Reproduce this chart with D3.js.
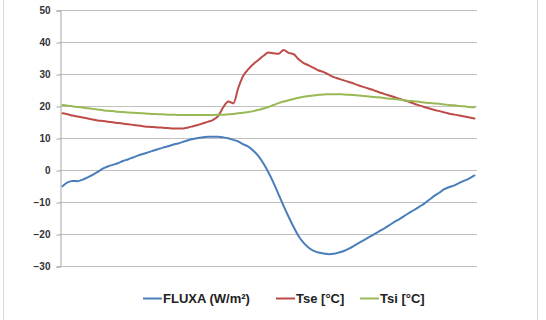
<!DOCTYPE html>
<html>
<head>
<meta charset="utf-8">
<script src="https://cdn.jsdelivr.net/npm/d3@7"></script>
<style>
  html, body { margin: 0; padding: 0; background: #fff; }
  svg { display: block; }
</style>
</head>
<body>
<svg id="chart" width="546" height="320"></svg>
<script>
// ---- DATA ----
const seriesNames = ["FLUXA (W/m²)", "Tse [°C]", "Tsi [°C]"];
const yTicks = [-30, -20, -10, 0, 10, 20, 30, 40, 50];

const fluxa = [
  -5.1, -3.9, -3.4, -3.5, -3.0, -2.3, -1.5, -0.6, 0.4, 1.1,
  1.6, 2.1, 2.8, 3.3, 3.9, 4.5, 5.0, 5.5, 6.0, 6.5,
  7.0, 7.4, 7.9, 8.3, 8.8, 9.3, 9.7, 10.0, 10.2, 10.4,
  10.4, 10.4, 10.2, 9.9, 9.4, 8.9, 8.0, 7.3, 6.0, 4.3,
  2.0, -0.8, -4.0, -7.6, -11.2, -14.6, -17.8, -20.7, -22.8, -24.3,
  -25.3, -25.8, -26.1, -26.3, -26.2, -25.8, -25.3, -24.6, -23.7, -22.8,
  -21.9, -21.0, -20.1, -19.2, -18.3, -17.3, -16.3, -15.4, -14.4, -13.4,
  -12.5, -11.5, -10.5, -9.3, -8.1, -7.1, -6.0, -5.3, -4.8, -4.0,
  -3.3, -2.6, -1.7
];
const tse = [
  17.7, 17.4, 17.0, 16.7, 16.4, 16.1, 15.8, 15.5, 15.3, 15.1,
  14.9, 14.7, 14.5, 14.3, 14.1, 13.9, 13.7, 13.5, 13.4, 13.3,
  13.2, 13.1, 13.0, 13.0, 13.0, 13.3, 13.7, 14.1, 14.6, 15.1,
  15.7, 16.9, 19.6, 21.4, 20.8, 25.7, 29.5, 31.5, 33.1, 34.4,
  35.7, 36.7, 36.5, 36.3, 37.5, 36.6, 36.2, 34.6, 33.4, 32.7,
  31.9, 31.1, 30.6, 29.8, 29.0, 28.5, 28.0, 27.5, 27.0, 26.4,
  25.9, 25.4, 24.9, 24.3, 23.8, 23.3, 22.8, 22.3, 21.8, 21.3,
  20.7, 20.2, 19.7, 19.2, 18.75, 18.4, 18.0, 17.6, 17.3, 17.0,
  16.7, 16.4, 16.1
];
const tsi = [
  20.3, 20.1, 19.9, 19.7, 19.5, 19.3, 19.1, 18.9, 18.7, 18.5,
  18.4, 18.2, 18.1, 18.0, 17.9, 17.8, 17.7, 17.6, 17.5, 17.45,
  17.4, 17.3, 17.25, 17.2, 17.2, 17.2, 17.2, 17.2, 17.2, 17.2,
  17.2, 17.25, 17.3, 17.4, 17.5, 17.7, 17.9, 18.1, 18.4, 18.8,
  19.2, 19.7, 20.3, 20.9, 21.4, 21.8, 22.2, 22.6, 22.9, 23.1,
  23.3, 23.5, 23.6, 23.65, 23.7, 23.7, 23.6, 23.5, 23.4, 23.3,
  23.1, 23.0, 22.8, 22.7, 22.5, 22.3, 22.2, 22.0, 21.8, 21.6,
  21.5, 21.3, 21.1, 20.9, 20.8, 20.7, 20.5, 20.3, 20.2, 20.0,
  19.9, 19.7, 19.6
];
const categories = d3.range(fluxa.length);
const colors = ["#4a7ebb", "#be4b48", "#98b954"];

// ---- DRAW ----
const svg = d3.select("#chart");
const plotLeft = 60, plotRight = 477, plotTop = 10, plotBottom = 266;

// chart border
svg.append("rect")
  .attr("x", 3.5).attr("y", -5).attr("width", 534).attr("height", 340)
  .attr("fill", "none").attr("stroke", "#d9d9d9").attr("stroke-width", 1);

const x = d3.scalePoint().domain(categories).range([plotLeft, plotRight]).padding(0.5);
const y = d3.scaleLinear().domain([-30, 50]).range([plotBottom, plotTop]);

// gridlines
svg.append("g").selectAll("line").data(yTicks).join("line")
  .attr("x1", plotLeft).attr("x2", plotRight)
  .attr("y1", d => Math.round(y(d)) + 0.5).attr("y2", d => Math.round(y(d)) + 0.5)
  .attr("stroke", "#c0c0c0").attr("stroke-width", 1);

// y axis
const yAxis = d3.axisLeft(y).tickValues(yTicks).tickSize(4).tickPadding(6).tickFormat(d3.format("d"));
const ga = svg.append("g").attr("transform", `translate(${plotLeft + 0.5},0.5)`).call(yAxis);
ga.select(".domain").attr("stroke", "#a6a6a6");
ga.selectAll(".tick line").attr("stroke", "#a6a6a6");
ga.selectAll(".tick text")
  .attr("fill", "#333")
  .style("font-family", "'Liberation Sans', Arial, sans-serif")
  .style("font-size", "10px").style("font-weight", "bold");

// lines
const allSeries = [fluxa, tse, tsi];
const line = d3.line().x((d, i) => x(categories[i])).y(d => y(d)).curve(d3.curveMonotoneX);
allSeries.forEach((s, k) => {
  svg.append("path").datum(s)
    .attr("fill", "none").attr("stroke", colors[k])
    .attr("stroke-width", 2).attr("stroke-linejoin", "round").attr("stroke-linecap", "round")
    .attr("d", line);
});

// legend
const legendX = [143, 276, 360];
const lg = svg.append("g");
seriesNames.forEach((name, k) => {
  lg.append("line")
    .attr("x1", legendX[k]).attr("x2", legendX[k] + 19)
    .attr("y1", 298.5).attr("y2", 298.5)
    .attr("stroke", colors[k]).attr("stroke-width", 2);
  lg.append("text")
    .attr("x", legendX[k] + 20).attr("y", 303)
    .attr("fill", "#222")
    .style("font-family", "'Liberation Sans', Arial, sans-serif")
    .style("font-size", "13px").style("font-weight", "bold")
    .text(name);
});
</script>
</body>
</html>
